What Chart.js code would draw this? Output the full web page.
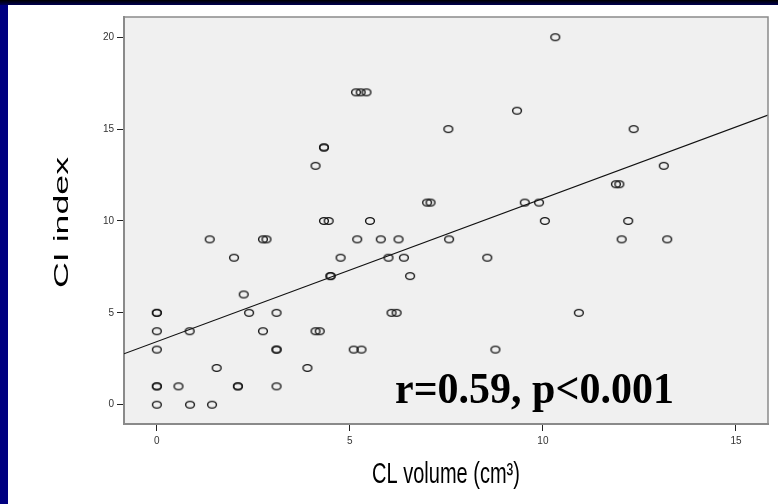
<!DOCTYPE html>
<html>
<head>
<meta charset="utf-8">
<script src="https://cdn.jsdelivr.net/npm/chart.js@4/dist/chart.umd.min.js"></script>
<style>
  html, body { margin: 0; padding: 0; background: #ffffff; }
  #wrap { position: relative; width: 778px; height: 504px; overflow: hidden; background: #ffffff; }
  #leftStrip { position: absolute; left: 0; top: 0; width: 8px; height: 504px; background: #000080; }
  #topStrip { position: absolute; left: 0; top: 0; width: 778px; height: 5px; background: linear-gradient(#000000, #000050); }
  canvas { position: absolute; left: 0; top: 0; }
</style>
</head>
<body>
<div id="wrap">
  <div id="leftStrip"></div>
  <div id="topStrip"></div>
  <canvas id="c" width="778" height="504"></canvas>
</div>
<script>
// ---- data ----
const clVolume = [
  0, 0.86, 1.43,
  0, 0, 0.56, 2.1, 2.1, 3.1,
  1.55, 3.9,
  0, 3.1, 3.1, 5.1, 5.3, 8.77,
  0, 0.85, 2.75, 4.11, 4.22,
  0, 0, 2.39, 3.1, 6.08, 6.21, 10.93,
  2.25,
  4.5, 4.5, 6.56,
  2.0, 4.76, 6.0, 6.4, 8.56,
  1.37, 2.75, 2.84, 5.19, 5.8, 6.26, 7.57, 12.04, 13.22,
  4.33, 4.45, 5.52, 10.05, 12.21,
  7.0, 7.09, 9.53, 9.9,
  11.89, 11.98,
  4.11, 13.13,
  4.33, 4.33,
  7.55, 12.35,
  9.33,
  5.16, 5.28, 5.43,
  10.32
];
const ciIndex = [
  0, 0, 0,
  1, 1, 1, 1, 1, 1,
  2, 2,
  3, 3, 3, 3, 3, 3,
  4, 4, 4, 4, 4,
  5, 5, 5, 5, 5, 5, 5,
  6,
  7, 7, 7,
  8, 8, 8, 8, 8,
  9, 9, 9, 9, 9, 9, 9, 9, 9,
  10, 10, 10, 10, 10,
  11, 11, 11, 11,
  12, 12,
  13, 13,
  14, 14,
  15, 15,
  16,
  17, 17, 17,
  20
];
// fitted regression line end points
const fitX = [-0.85, 15.83];
const fitY = [2.77, 15.76];
// axis ticks
const xTickValues = [0, 5, 10, 15];
const yTickValues = [0, 5, 10, 15, 20];
// texts
const xTitle = 'CL volume (cm³)';
const yTitle = 'CI index';
const statText = 'r=0.59, p<0.001';

// ---- build ----
const scatterPts = clVolume.map((x, i) => ({ x: x, y: ciIndex[i] }));
const fitPts = fitX.map((x, i) => ({ x: x, y: fitY[i] }));

// open elliptical marker
const marker = document.createElement('canvas');
marker.width = 12; marker.height = 10;
(function () {
  const m = marker.getContext('2d');
  m.beginPath();
  m.ellipse(6, 5, 4.4, 3.4, 0, 0, Math.PI * 2);
  m.lineWidth = 1.4;
  m.strokeStyle = '#151515';
  m.stroke();
})();

const SANS = '"Liberation Sans", Arial, sans-serif';

const frame = {
  id: 'frame',
  beforeDraw(chart) {
    const { ctx, chartArea: a } = chart;
    ctx.save();
    ctx.fillStyle = '#f0f0f0';
    ctx.fillRect(a.left, a.top, a.right - a.left, a.bottom - a.top);
    ctx.restore();
  },
  afterDraw(chart) {
    const { ctx, chartArea: a } = chart;
    const o = chart.options.plugins.frame;
    ctx.save();
    ctx.strokeStyle = '#8a8a8a';
    ctx.lineWidth = 1.5;
    ctx.beginPath();
    ctx.moveTo(a.left, a.top);
    ctx.lineTo(a.right, a.top);
    ctx.lineTo(a.right, a.bottom);
    ctx.stroke();

    // axis titles (the source picture is stretched vertically)
    ctx.fillStyle = '#000000';
    ctx.textAlign = 'center';
    ctx.textBaseline = 'middle';
    ctx.font = '20px ' + SANS;
    ctx.save();
    ctx.translate((a.left + a.right) / 2, a.bottom + o.xTitleGap);
    ctx.scale(1, 1.45);
    ctx.fillText(xTitle, 0, 0);
    ctx.restore();

    ctx.save();
    ctx.translate(o.yTitleX, (a.top + a.bottom) / 2 + 2);
    ctx.scale(1, 1.7);
    ctx.rotate(-Math.PI / 2);
    ctx.font = '21px ' + SANS;
    ctx.fillText(yTitle, 0, 0);
    ctx.restore();

    // statistic annotation
    const xs = chart.scales.x, ys = chart.scales.y;
    ctx.font = 'bold 42px "Liberation Serif", "Times New Roman", serif';
    ctx.textBaseline = 'alphabetic';
    ctx.textAlign = 'left';
    const px = xs.getPixelForValue(o.anchorX);
    const py = ys.getPixelForValue(o.anchorY);
    ctx.save();
    ctx.translate(px, py);
    ctx.scale(1, 1.05);
    ctx.fillText(statText, 0, 0);
    ctx.restore();
    ctx.restore();
  }
};

function fixTicks(values) {
  return function (scale) { scale.ticks = values.map(v => ({ value: v })); };
}

new Chart(document.getElementById('c'), {
  type: 'scatter',
  data: {
    datasets: [
      {
        data: scatterPts,
        pointStyle: marker,
        pointRadius: 4,
        pointHoverRadius: 4,
        borderColor: '#151515',
        backgroundColor: 'rgba(0,0,0,0)'
      },
      {
        data: fitPts,
        showLine: true,
        pointRadius: 0,
        borderColor: '#111111',
        borderWidth: 1.2,
        fill: false
      }
    ]
  },
  options: {
    responsive: false,
    animation: false,
    events: [],
    layout: { padding: { left: 0, top: 17, right: 10, bottom: 0 } },
    plugins: {
      legend: { display: false },
      tooltip: { enabled: false },
      frame: { anchorX: 6.17, anchorY: 0.1, xTitleGap: 51, yTitleX: 62 }
    },
    scales: {
      x: {
        type: 'linear',
        min: -0.85,
        max: 15.83,
        afterBuildTicks: fixTicks(xTickValues),
        afterFit(s) { s.height = 80; },
        grid: { drawOnChartArea: false, drawTicks: true, tickLength: 7, tickColor: '#222', tickWidth: 1 },
        border: { display: true, color: '#8a8a8a', width: 2 },
        ticks: { color: '#333', padding: 4, font: { family: SANS, size: 10 }, maxRotation: 0 },
        title: { display: false, text: xTitle }
      },
      y: {
        type: 'linear',
        min: -1.05,
        max: 21.1,
        afterBuildTicks: fixTicks(yTickValues),
        afterFit(s) { s.width = 124; },
        grid: { drawOnChartArea: false, drawTicks: true, tickLength: 7, tickColor: '#222', tickWidth: 1 },
        border: { display: true, color: '#8a8a8a', width: 2 },
        ticks: { color: '#333', padding: 3, font: { family: SANS, size: 10 } },
        title: { display: false, text: yTitle }
      }
    }
  },
  plugins: [frame]
});
</script>
</body>
</html>
